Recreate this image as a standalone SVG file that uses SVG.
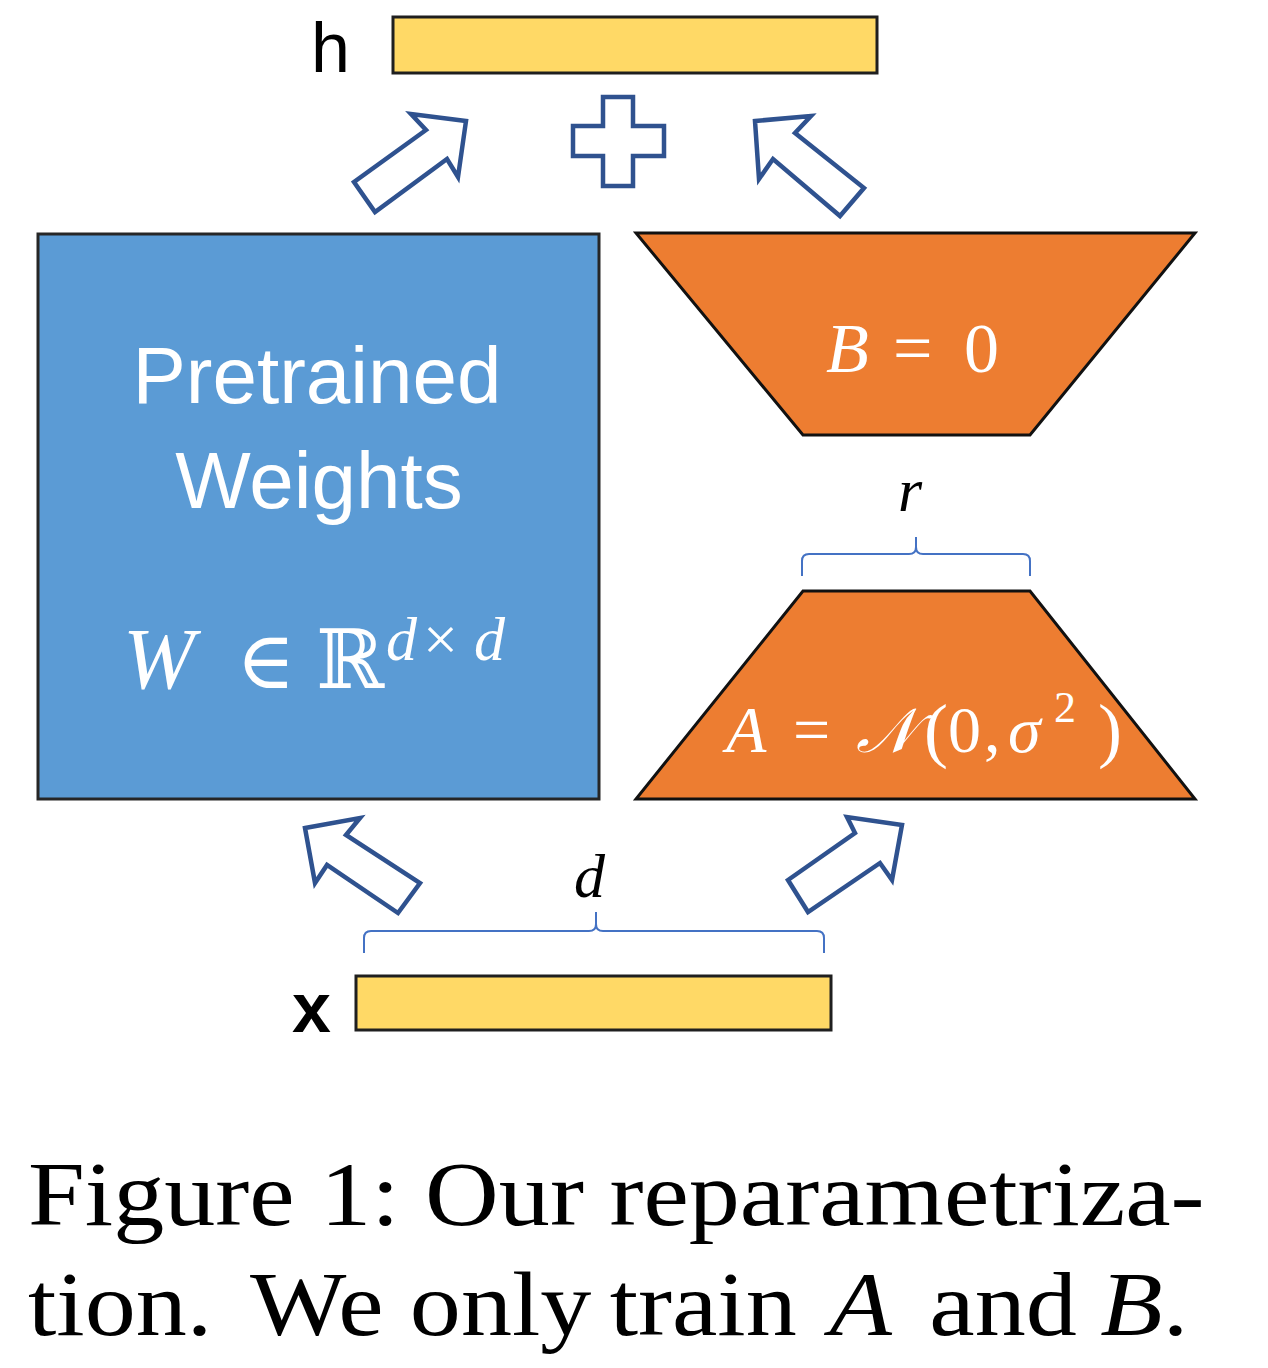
<svg xmlns="http://www.w3.org/2000/svg" width="1268" height="1368" viewBox="0 0 1268 1368">
<style>
.bar{fill:#FFD966;stroke:#1f1f1f;stroke-width:3}
.blue{fill:#5B9BD5;stroke:#262626;stroke-width:3}
.orange{fill:#ED7D31;stroke:#111;stroke-width:3}
.arrow{fill:#fff;stroke:#2F528F;stroke-width:4.5;stroke-linejoin:miter}
.brace{fill:none;stroke:#4472C4;stroke-width:2}
.sans{font-family:"Liberation Sans","Open Sans",sans-serif}
.math{font-family:"Liberation Serif","DejaVu Serif",serif}
.it{font-style:italic}
.wt{fill:#fff}
.cap{font-family:"Liberation Serif","Times New Roman",serif;font-size:92px;fill:#000}
</style>
<rect width="1268" height="1368" fill="#fff"/>

<g id="h">
  <text class="sans" x="311" y="72" font-size="70">h</text>
  <rect class="bar" x="393" y="17" width="484" height="56"/>
</g>

<g id="plus">
  <path class="arrow" d="M603,97 H633 V126 H664 V156 H633 V186 H603 V156 H573 V126 H603 Z"/>
</g>

<g id="pretrained">
  <rect class="blue" x="38" y="234" width="561" height="565"/>
  <text class="sans wt" x="317" y="403" font-size="80" text-anchor="middle">Pretrained</text>
  <text class="sans wt" x="319" y="508" font-size="80" text-anchor="middle">Weights</text>
  <text class="math it wt" x="123" y="688" font-size="86">W</text>
  <text class="math wt" x="236" y="688" font-size="80">∈</text>
  <text class="math wt" x="316" y="688" font-size="82">ℝ</text>
  <text class="math it wt" x="386" y="660" font-size="62">d</text>
  <text class="math wt" x="423" y="660" font-size="62">×</text>
  <text class="math it wt" x="474" y="660" font-size="62">d</text>
</g>

<g id="B">
  <polygon class="orange" points="636,233 1195,233 1030,435 803,435"/>
  <text class="math it wt" x="826" y="372" font-size="70">B</text>
  <text class="math wt" x="893" y="372" font-size="70">=</text>
  <text class="math wt" x="964" y="372" font-size="70">0</text>
</g>

<g id="r-label">
  <text class="math it" x="898" y="511" font-size="62">r</text>
  <path class="brace" d="M802,576 V561 Q802,554 809,554 H909 Q916,554 916,547 V537 M916,547 Q916,554 923,554 H1023 Q1030,554 1030,561 V576"/>
</g>

<g id="A">
  <polygon class="orange" points="803,591 1030,591 1195,799 636,799"/>
  <text class="math it wt" x="726" y="752" font-size="66">A</text>
  <text class="math wt" x="793" y="752" font-size="66">=</text>
  <text class="math it wt" x="856" y="752" font-size="62">𝒩</text>
  <text class="math wt" x="924" y="754" font-size="72">(</text>
  <text class="math wt" x="948" y="752" font-size="66">0</text>
  <text class="math wt" x="984" y="752" font-size="66">,</text>
  <text class="math it wt" x="1008" y="752" font-size="66">σ</text>
  <text class="math wt" x="1054" y="722" font-size="44">2</text>
  <text class="math wt" x="1098" y="754" font-size="72">)</text>
</g>

<g id="d-label">
  <text class="math it" x="574" y="897" font-size="62">d</text>
  <path class="brace" d="M364,953 V938 Q364,931 371,931 H589 Q596,931 596,924 V912 M596,924 Q596,931 603,931 H817 Q824,931 824,938 V953"/>
</g>

<g id="x">
  <text class="sans" x="292" y="1032" font-size="70" font-weight="bold">x</text>
  <rect class="bar" x="356" y="976" width="475" height="54"/>
</g>

<g id="connectors">
  <polygon class="arrow" points="466,121 411,114 426,130 354,182 375,212 447,159 458,177"/>
  <polygon class="arrow" points="755,121 811,116 795,133 864,188 840,216 773,159 759,179"/>
  <polygon class="arrow" points="305,828 360,818 346,835 420,883 398,913 327,865 315,883"/>
  <polygon class="arrow" points="902,825 847,817 855,833 788,880 808,912 880,863 892,880"/>
</g>

<g id="caption" transform="translate(28,0) scale(1.11,1)">
  <text class="cap" x="0" y="1225">Figure 1: Our reparametriza-</text>
  <text class="cap" x="0" y="1335">tion.</text>
  <text class="cap" x="200" y="1335">We</text>
  <text class="cap" x="344" y="1335">only</text>
  <text class="cap" x="524" y="1335">train</text>
  <text class="cap it" x="722" y="1335">A</text>
  <text class="cap" x="812" y="1335">and</text>
  <text class="cap" x="966" y="1335"><tspan font-style="italic">B</tspan>.</text>
</g>
</svg>
